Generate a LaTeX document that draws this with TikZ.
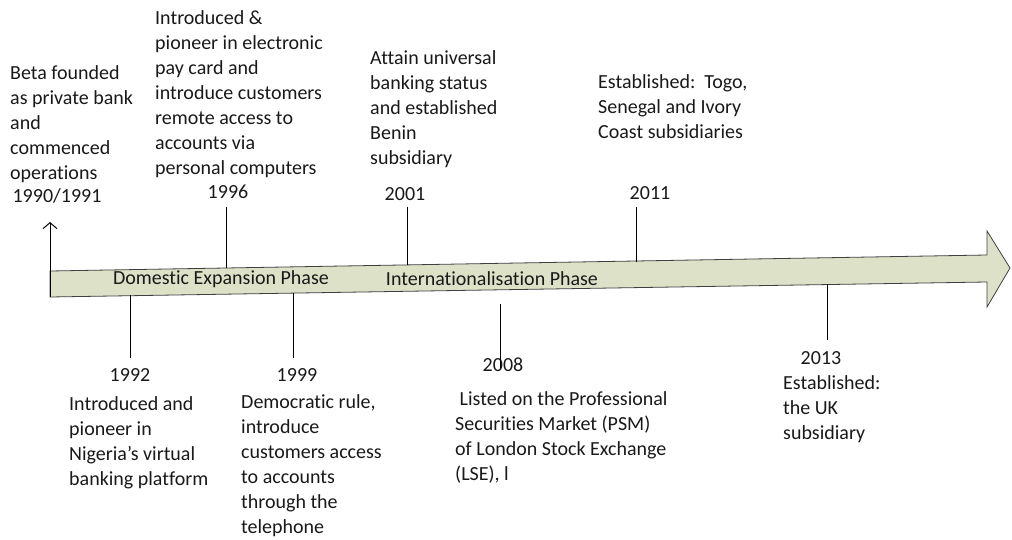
\documentclass[tikz,border=0pt]{standalone}
\usepackage{fontspec}
\setmainfont{Carlito}[Ligatures=NoCommon]
\usepackage{xcolor}
\usepackage{tikz}
\usetikzlibrary{arrows.meta}
\definecolor{shaftgreen}{RGB}{221,225,200}

\begin{document}
\begin{tikzpicture}[x=1pt, y=-1pt, font=\fontsize{20}{25}\selectfont]
		% Define the style for the text nodes
		\tikzstyle{event}=[anchor=north west, align=left, inner sep=0pt, text=black!90]
		\tikzstyle{year}=[inner sep=0pt, text=black!90]
		\tikzstyle{tick}=[draw=black, line width=1pt]
		\useasboundingbox (0,0) rectangle (1012,540);

		% Define the time arrow
		\filldraw[fill=shaftgreen, draw=black!75, line width=0.8pt]
			(50,271) -- (987,255) -- (987,231) -- (1010,268) -- (987,307) -- (987,282) -- (50,297) -- cycle;
		\node (domestic) [year] at (221,279) {Domestic Expansion Phase};
		\node (intl) [year] at (492,279) {Internationalisation Phase};

		% Define nodes above the arrow
		\node (e1990) [event] at (10,65) {Beta founded\\as private bank\\and\\commenced\\operations};
		\node (e1996) [event] at (155,10) {Introduced \&\\pioneer in electronic\\pay card and\\introduce customers\\remote access to\\accounts via\\personal computers};
		\node (e2001) [event] at (370,50) {Attain universal\\banking status\\and established\\Benin\\subsidiary};
		\node (e2011) [event] at (598,74) {Established:\ \ Togo,\\Senegal and Ivory\\Coast subsidiaries};
		\node (y1990) [year] at (57,196) {1990/1991};
		\node (y1996) [year] at (228,192) {1996};
		\node (y2001) [year] at (405,194) {2001};
		\node (y2011) [year] at (650,193) {2011};

		% Define nodes below the arrow
		\node (y1992) [year] at (130,375) {1992};
		\node (y1999) [year] at (297,375) {1999};
		\node (y2008) [year] at (503,365) {2008};
		\node (y2013) [year] at (821,358) {2013};
		\node (e1992) [event] at (69,396) {Introduced and\\pioneer in\\Nigeria’s virtual\\banking platform};
		\node (e1999) [event] at (241,394) {Democratic rule,\\introduce\\customers access\\to accounts\\through the\\telephone};
		\node (e2008) [event] at (455,391) {\ Listed on the Professional\\Securities Market (PSM)\\of London Stock Exchange\\(LSE), l};
		\node (e2013) [event] at (783,375) {Established:\\the UK\\subsidiary};

		% Define tick ends
		\coordinate (a1990) at (50,222);
		\coordinate (b1990) at (50,297);
		\coordinate (a1996) at (226,207);
		\coordinate (b1996) at (226,268);
		\coordinate (a2001) at (407,207);
		\coordinate (b2001) at (407,265);
		\coordinate (a2011) at (636,207);
		\coordinate (b2011) at (636,262);
		\coordinate (a1992) at (130,295);
		\coordinate (b1992) at (130,358);
		\coordinate (a1999) at (293,293);
		\coordinate (b1999) at (293,358);
		\coordinate (a2008) at (500,304);
		\coordinate (b2008) at (500,368);
		\coordinate (a2013) at (827,284);
		\coordinate (b2013) at (827,340);

		% Define edges
		\draw[tick, -{Straight Barb[length=6pt, width=14pt]}] (b1990) -- (a1990);
		\draw[tick] (a1996) -- (b1996);
		\draw[tick] (a2001) -- (b2001);
		\draw[tick] (a2011) -- (b2011);
		\draw[tick] (a1992) -- (b1992);
		\draw[tick] (a1999) -- (b1999);
		\draw[tick] (a2008) -- (b2008);
		\draw[tick] (a2013) -- (b2013);
	\end{tikzpicture}
\end{document}
